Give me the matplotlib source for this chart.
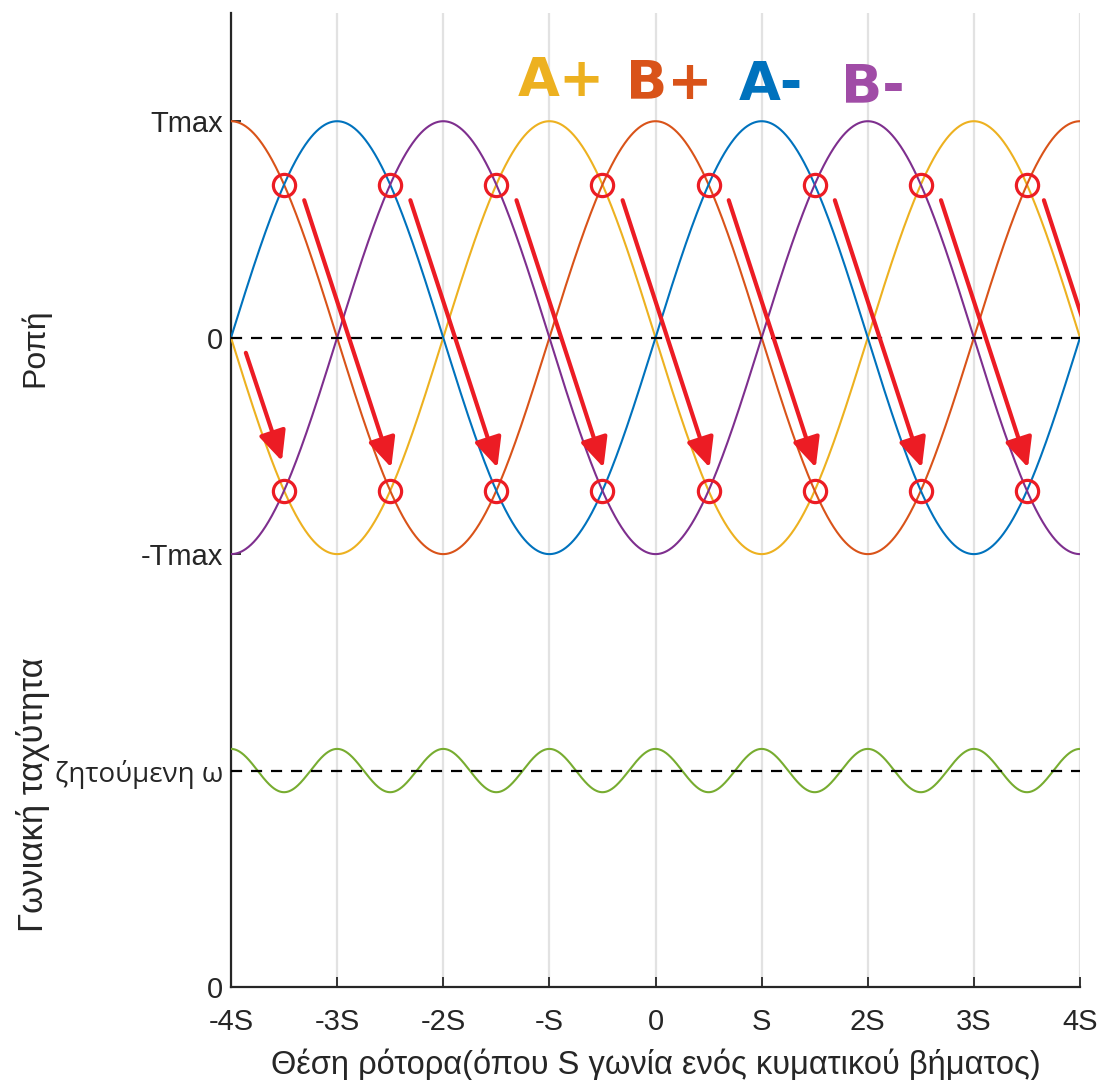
import numpy as np
import matplotlib
matplotlib.use("Agg")
import matplotlib.pyplot as plt
from matplotlib.patches import FancyArrowPatch

plt.rcParams['font.family'] = ['Liberation Sans', 'DejaVu Sans']

# --- phases: name, colour, position (in steps S) of the torque maximum ---
phase_names = ["A+", "B+", "A-", "B-"]
phase_colors = ["#EDB120", "#D95319", "#0072BD", "#7E2F8E"]
label_colors = ["#EDB120", "#D95319", "#0072BD", "#A04CA6"]
phase_peaks = [-1.0, 0.0, 1.0, 2.0]
torque_period = 4.0          # in steps S
t_max = 1.0

# crossing points between consecutive phases (marked with circles)
cross_x = [-3.5, -2.5, -1.5, -0.5, 0.5, 1.5, 2.5, 3.5]
cross_upper = 0.707
cross_lower = -0.707

# commutation arrows: (x_start, y_start, x_end, y_end)
arrows = [
    (-3.86, -0.07, -3.52, -0.57),
    (-3.31, 0.635, -2.49, -0.60),
    (-2.31, 0.635, -1.49, -0.60),
    (-1.31, 0.635, -0.49, -0.60),
    (-0.31, 0.635, 0.51, -0.60),
    (0.69, 0.635, 1.51, -0.60),
    (1.69, 0.635, 2.51, -0.60),
    (2.69, 0.635, 3.51, -0.60),
    (3.66, 0.635, 4.48, -0.60),
]

# angular velocity: reference level and ripple
w_ref = -2.0
w_ripple = 0.1
w_period = 1.0

x_ticks = [-4, -3, -2, -1, 0, 1, 2, 3, 4]
x_ticklabels = ["-4S", "-3S", "-2S", "-S", "0", "S", "2S", "3S", "4S"]
y_ticks = [-3.0, -2.0, -1.0, 0.0, 1.0]
y_ticklabels = ["0", "ζητούμενη ω", "-Tmax", "0", "Tmax"]

# legend-like phase labels (data coordinates)
label_x = [-0.89, 0.13, 1.09, 2.05]
label_y = [1.185, 1.172, 1.167, 1.157]

red = "#EC1C24"

fig = plt.figure(figsize=(11.02, 10.80), dpi=100)
ax = fig.add_axes([231 / 1102, 1 - 987 / 1080, (1080 - 231) / 1102, (987 - 13) / 1080])

x = np.linspace(-4, 4, 1601)
for name, col, peak in zip(phase_names, phase_colors, phase_peaks):
    ax.plot(x, t_max * np.cos(2 * np.pi * (x - peak) / torque_period), color=col, lw=1.5, zorder=3)

ax.axhline(0.0, color="black", lw=1.6, ls=(0, (5, 4)), zorder=4)
ax.axhline(w_ref, color="black", lw=1.6, ls=(0, (5, 4)), zorder=4)

ax.plot(x, w_ref + w_ripple * np.cos(2 * np.pi * x / w_period), color="#77AC30", lw=1.5, zorder=3)

ax.plot(cross_x, [cross_upper] * len(cross_x), ls="none", marker="o", ms=16,
        mfc="none", mec=red, mew=2.3, zorder=5)
ax.plot(cross_x, [cross_lower] * len(cross_x), ls="none", marker="o", ms=16,
        mfc="none", mec=red, mew=2.3, zorder=5)

for xs, ys, xe, ye in arrows:
    arr = FancyArrowPatch((xs, ys), (xe, ye), arrowstyle="-|>,head_length=0.9,head_width=0.42",
                          mutation_scale=20, color=red, lw=3, shrinkA=0, shrinkB=0, zorder=6)
    ax.add_patch(arr)

ax.set_xlim(-4, 4)
ax.set_ylim(-3.0, 1.5)
ax.set_xticks(x_ticks)
ax.set_xticklabels(x_ticklabels)
ax.set_yticks(y_ticks)
ax.set_yticklabels(y_ticklabels)
ax.tick_params(direction="in", length=7, width=1.3, color="#262626", labelsize=21,
               labelcolor="#262626")
ax.tick_params(axis="x", pad=15)
ax.tick_params(axis="y", pad=5.5)
for lbl in ax.get_yticklabels():
    if lbl.get_text() == "ζητούμενη ω":
        lbl.set_family(["Open Sans", "DejaVu Sans"])
        lbl.set_fontsize(20)
ax.grid(axis="x", color="#e2e2e2", lw=1.6)
ax.set_axisbelow(True)
for s in ("top", "right"):
    ax.spines[s].set_visible(False)
for s in ("left", "bottom"):
    ax.spines[s].set_color("#262626")
    ax.spines[s].set_linewidth(1.6)

ax.set_xlabel("Θέση ρότορα(όπου S γωνία ενός κυματικού βήματος)", fontsize=23.5,
              color="#262626", labelpad=9)

fig.text(35 / 1102, 1 - 348 / 1080, "Ροπή", rotation=90, ha="center", va="center",
         fontsize=23, color="#262626")
fig.text(33 / 1102, 1 - 795 / 1080, "Γωνιακή ταχύτητα", rotation=90, ha="center", va="center",
         fontsize=25, color="#262626")

for name, col, lx, ly in zip(phase_names, label_colors, label_x, label_y):
    ax.text(lx, ly, name, color=col, fontsize=39, fontweight="bold", ha="center", va="center",
            family=["DejaVu Sans"], zorder=7)

fig.savefig("out.png", dpi=100)
